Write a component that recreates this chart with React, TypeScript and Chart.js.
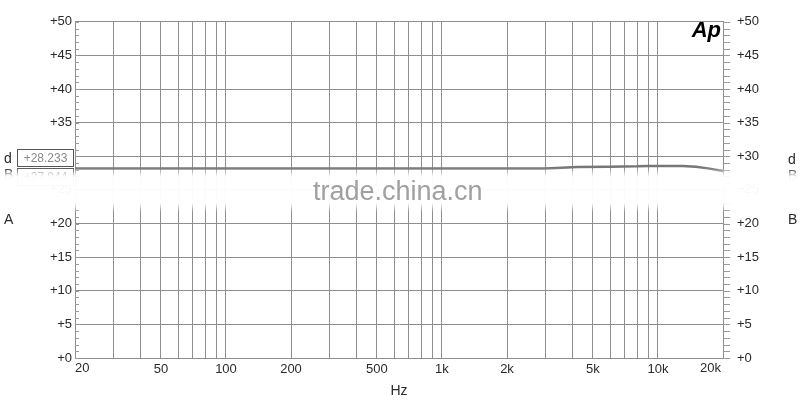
import React, { useEffect, useRef } from 'react';
import { Chart, registerables } from 'chart.js';

Chart.register(...registerables);

// ---- Data ----
const FREQS = [20, 50, 100, 200, 500, 1000, 2000, 3000, 3600, 4200, 6000, 8000, 9000, 13000, 15000, 17000, 20000];
const LEVELS = [28.17, 28.17, 28.17, 28.17, 28.17, 28.18, 28.18, 28.2, 28.3, 28.42, 28.43, 28.5, 28.57, 28.57, 28.45, 28.2, 27.82];

const GRID_FREQS = [
  20, 30, 40, 50, 60, 70, 80, 90, 100,
  200, 300, 400, 500, 600, 700, 800, 900, 1000,
  2000, 3000, 4000, 5000, 6000, 7000, 8000, 9000, 10000, 20000,
];
const X_TICK_VALUES = [20, 50, 100, 200, 500, 1000, 2000, 5000, 10000, 20000];
const X_TICK_LABELS = ['20', '50', '100', '200', '500', '1k', '2k', '5k', '10k', '20k'];
const Y_TICK_VALUES = [0, 5, 10, 15, 20, 25, 30, 35, 40, 45, 50];
const Y_MINOR_VALUES = Array.from({ length: 51 }, (_, i) => i);

const READOUT_VALUES = ['+28.233', '+27.844'];
const X_TITLE = 'Hz';
const WATERMARK = 'trade.china.cn';

const FONT = '"Liberation Sans", Arial, sans-serif';
const GRID = '#8e8e8e';
const TEXT = '#2a2a2a';

export default function App() {
  const ref = useRef<HTMLCanvasElement>(null);

  useEffect(() => {
    const overlay = {
      id: 'overlay',
      afterDraw(chart: any) {
        const ctx = chart.ctx as CanvasRenderingContext2D;
        const area = chart.chartArea;
        const ys = chart.scales.y;
        const xs = chart.scales.x;
        ctx.save();

        // minor ticks
        ctx.strokeStyle = '#999';
        ctx.lineWidth = 1;
        Y_MINOR_VALUES.forEach((v) => {
          const py = Math.round(ys.getPixelForValue(v)) + 0.5;
          ctx.beginPath();
          ctx.moveTo(area.left, py);
          ctx.lineTo(area.left + 4, py);
          ctx.moveTo(area.right, py);
          ctx.lineTo(area.right + 7, py);
          ctx.stroke();
        });

        // edge x labels
        ctx.fillStyle = TEXT;
        ctx.font = `13px ${FONT}`;
        ctx.textBaseline = 'middle';
        ctx.textAlign = 'left';
        ctx.fillText(X_TICK_LABELS[0], xs.getPixelForValue(X_TICK_VALUES[0]), 368);
        ctx.textAlign = 'right';
        ctx.fillText(
          X_TICK_LABELS[X_TICK_LABELS.length - 1],
          xs.getPixelForValue(X_TICK_VALUES[X_TICK_VALUES.length - 1]) - 2,
          368
        );

        // readout boxes
        READOUT_VALUES.forEach((t, i) => {
          const top = 149.5 + i * 19;
          ctx.strokeStyle = '#555';
          ctx.lineWidth = 1;
          ctx.fillStyle = '#fff';
          ctx.fillRect(17.5, top, 56, 17);
          ctx.strokeRect(17.5, top, 56, 17);
          ctx.fillStyle = '#8a8a8a';
          ctx.font = `12px ${FONT}`;
          ctx.textAlign = 'center';
          ctx.textBaseline = 'middle';
          ctx.fillText(t, 45.5, top + 9);
        });

        // channel letters
        ctx.fillStyle = TEXT;
        ctx.font = `14px ${FONT}`;
        ctx.textAlign = 'left';
        ctx.textBaseline = 'middle';
        ctx.fillText('d', 4, 159);
        ctx.fillText('B', 4, 175);
        ctx.fillText('A', 4, 220);
        ctx.fillText('d', 788, 160);
        ctx.fillText('B', 788, 176);
        ctx.fillText('B', 788, 220);

        // Ap logo
        ctx.fillStyle = '#000';
        ctx.font = `italic bold 22px ${FONT}`;
        ctx.textAlign = 'right';
        ctx.textBaseline = 'alphabetic';
        ctx.fillText('Ap', 721, 37);

        // watermark band
        const g = ctx.createLinearGradient(0, 168, 0, 212);
        g.addColorStop(0, 'rgba(255,255,255,0)');
        g.addColorStop(0.2, 'rgba(255,255,255,0.97)');
        g.addColorStop(0.8, 'rgba(255,255,255,0.97)');
        g.addColorStop(1, 'rgba(255,255,255,0)');
        ctx.fillStyle = g;
        ctx.fillRect(0, 168, 800, 44);

        ctx.fillStyle = '#a0a0a0';
        ctx.font = `27px ${FONT}`;
        ctx.textAlign = 'left';
        ctx.textBaseline = 'alphabetic';
        ctx.fillText(WATERMARK, 313, 200);

        ctx.restore();
      },
    };

    const yTickCb = (v: any) => '+' + v;

    const chart = new Chart(ref.current as HTMLCanvasElement, {
      type: 'line',
      data: {
        datasets: [
          {
            data: FREQS.map((f, i) => ({ x: f, y: LEVELS[i] })),
            borderColor: '#777777',
            borderWidth: 2.5,
            pointRadius: 0,
            tension: 0,
          },
        ],
      },
      options: {
        responsive: false,
        animation: false,
        layout: { padding: { top: 20, left: 0, right: 0, bottom: 0 } },
        plugins: { legend: { display: false }, tooltip: { enabled: false } },
        scales: {
          x: {
            type: 'logarithmic',
            min: 20,
            max: 20000,
            afterBuildTicks: (s: any) => {
              s.ticks = GRID_FREQS.map((v) => ({ value: v }));
            },
            afterFit: (s: any) => {
              s.height = 42;
            },
            ticks: {
              autoSkip: false,
              maxRotation: 0,
              minRotation: 0,
              padding: 4,
              color: TEXT,
              font: { family: FONT, size: 13 },
              callback: (v: any) => {
                const idx = X_TICK_VALUES.indexOf(Number(v));
                if (idx <= 0 || idx === X_TICK_VALUES.length - 1) return '';
                return X_TICK_LABELS[idx];
              },
            },
            grid: { color: GRID, lineWidth: 1, drawTicks: false },
            border: { color: GRID },
            title: {
              display: true,
              text: X_TITLE,
              color: TEXT,
              font: { family: FONT, size: 14 },
              padding: { top: 0, bottom: 0 },
            },
          } as any,
          y: {
            position: 'left',
            min: 0,
            max: 50,
            afterBuildTicks: (s: any) => {
              s.ticks = Y_TICK_VALUES.map((v) => ({ value: v }));
            },
            afterFit: (s: any) => {
              s.width = 75;
            },
            ticks: {
              autoSkip: false,
              padding: 3,
              color: TEXT,
              font: { family: FONT, size: 13 },
              callback: yTickCb,
            },
            grid: { color: GRID, lineWidth: 1, drawTicks: false },
            border: { color: GRID },
          } as any,
          y2: {
            position: 'right',
            min: 0,
            max: 50,
            afterBuildTicks: (s: any) => {
              s.ticks = Y_TICK_VALUES.map((v) => ({ value: v }));
            },
            afterFit: (s: any) => {
              s.width = 77;
            },
            ticks: {
              autoSkip: false,
              padding: 14,
              color: TEXT,
              font: { family: FONT, size: 13 },
              callback: yTickCb,
            },
            grid: { drawOnChartArea: false, drawTicks: false },
            border: { color: GRID },
          } as any,
        },
      },
      plugins: [overlay],
    });

    return () => chart.destroy();
  }, []);

  return (
    <div style={{ position: 'fixed', left: 0, top: 0, width: 800, height: 400, background: '#fff' }}>
      <canvas ref={ref} width={800} height={400} style={{ width: 800, height: 400, display: 'block' }} />
    </div>
  );
}
